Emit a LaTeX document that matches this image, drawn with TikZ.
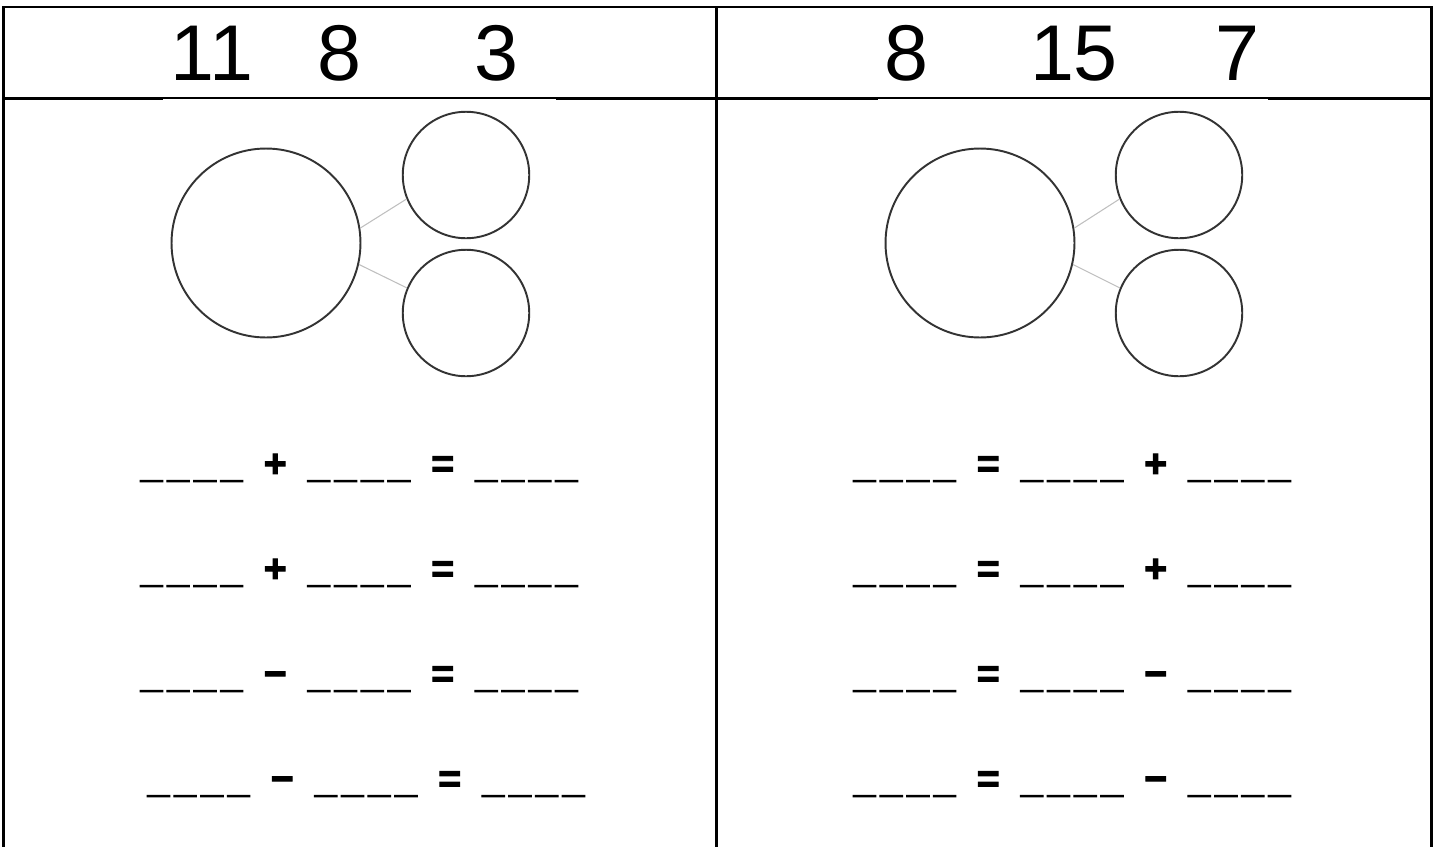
\documentclass[tikz,border=0pt]{standalone}
\usepackage{fontspec}
\setmainfont{Liberation Sans}
\newfontfamily\eqfont{Liberation Sans Bold}[FakeBold=2.5]

% one blank to fill in, and the space round an operator
\newcommand\blnk{\_\kern2.7pt\_\kern2.7pt\_\kern2.7pt\_}
\newcommand\opgap{\hspace{12pt}}

\begin{document}
\begin{tikzpicture}[x=0.02cm, y=-0.02cm,
    num/.style={font=\fontsize{45}{50}\selectfont, anchor=base, inner sep=0pt},
    eqn/.style={font=\fontsize{22.5}{26}\eqfont, anchor=base, inner sep=0pt},
    bigc/.style={circle, draw=black!80, line width=1.1pt, minimum size=3.78cm, inner sep=0pt},
    smallc/.style={circle, draw=black!80, line width=1.1pt, minimum size=2.53cm, inner sep=0pt},
    link/.style={black!25, line width=0.6pt}]

\useasboundingbox (0,0) rectangle (1437,846);
\clip (0,0) rectangle (1437,846);

% Frame, middle rule and header rule
\draw[line width=1.7pt] (3.5,860) -- (3.5,7) -- (1431,7) -- (1431,860);
\draw[line width=1.7pt] (716,7) -- (716,860);
\draw[line width=1.7pt] (3.5,98.5) -- (163,98.5) (556,98.5) -- (878,98.5) (1268,98.5) -- (1431,98.5);
\draw[line width=1.2pt] (163,98) -- (556,98) (878,98) -- (1268,98);

% Header numbers
\node[num] (hL1) at (212,80) {11};
\node[num] (hL2) at (339,80) {8};
\node[num] (hL3) at (496,80) {3};
\node[num] (hR1) at (906,80) {8};
\node[num] (hR2) at (1074,80) {15};
\node[num] (hR3) at (1237,80) {7};

% Number bonds -- left
\node[bigc] (bigL) at (266,243) {};
\node[smallc] (topL) at (466,175) {};
\node[smallc] (botL) at (466,313) {};
\draw[link] (bigL.9) -- (topL.202);
\draw[link] (bigL.-13) -- (botL.157);

% Number bonds -- right
\node[bigc] (bigR) at (980,243) {};
\node[smallc] (topR) at (1179,175) {};
\node[smallc] (botR) at (1179,313) {};
\draw[link] (bigR.9) -- (topR.202);
\draw[link] (bigR.-13) -- (botR.157);

% Fact family rows
\foreach \x/\y/\op [count=\i] in {359/477/+, 359/582/+, 359/687/−, 366/792/−} {
    \node[eqn] (eqL\i) at (\x,\y) {\blnk\opgap\op\opgap\blnk\opgap=\opgap\blnk};
}
\foreach \y/\op [count=\i] in {477/+, 582/+, 687/−, 792/−} {
    \node[eqn] (eqR\i) at (1072,\y) {\blnk\opgap=\opgap\blnk\opgap\op\opgap\blnk};
}

\end{tikzpicture}
\end{document}
